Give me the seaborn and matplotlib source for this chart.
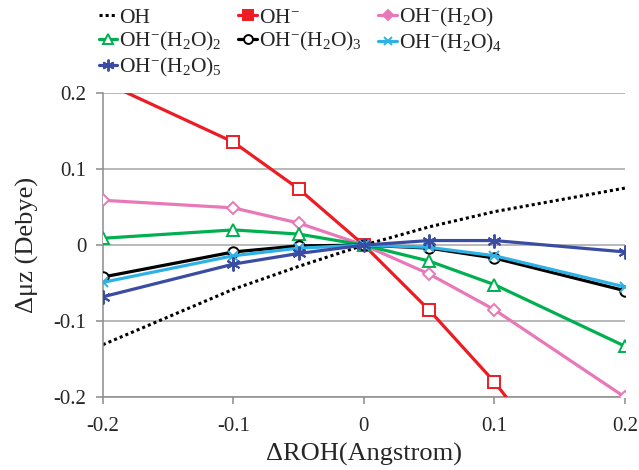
import matplotlib
matplotlib.use("Agg")
import matplotlib.pyplot as plt
from matplotlib.lines import Line2D
import seaborn as sns
import numpy as np

# bond stretch (Angstrom) and dipole change (Debye)
dr = [-0.2, -0.1, -0.05, 0.0, 0.05, 0.1, 0.2]

oh = [-0.131, -0.058, -0.028, 0.0, 0.024, 0.044, 0.075]
oh_minus = [0.215, 0.1355, 0.074, 0.0, -0.0855, -0.18, -0.40]
oh_w1 = [0.059, 0.049, 0.029, 0.0, -0.038, -0.085, -0.200]
oh_w2 = [0.009, 0.020, 0.0145, 0.0, -0.021, -0.052, -0.133]
oh_w3 = [-0.042, -0.009, -0.001, 0.0, -0.004, -0.017, -0.060]
oh_w4 = [-0.049, -0.014, -0.004, 0.0, -0.003, -0.014, -0.055]
oh_w5 = [-0.068, -0.025, -0.011, 0.0, 0.006, 0.006, -0.009]

labels = ["OH", r"OH$^{-}$", r"OH$^{-}$(H$_{2}$O)", r"OH$^{-}$(H$_{2}$O)$_{2}$",
          r"OH$^{-}$(H$_{2}$O)$_{3}$", r"OH$^{-}$(H$_{2}$O)$_{4}$", r"OH$^{-}$(H$_{2}$O)$_{5}$"]
series = [oh, oh_minus, oh_w1, oh_w2, oh_w3, oh_w4, oh_w5]
colors = ["black", "#ED1C24", "#E878B8", "#00B050", "black", "#2DB2E6", "#3B4DA3"]
markers = [None, "s", "D", "^", "o", "x", (6, 2, 0)]
msizes = [0, 8, 6.5, 8.5, 7.5, 7.5, 10]

sns.set_style("white")
plt.rcParams["font.family"] = ["Liberation Serif", "DejaVu Serif"]
plt.rcParams["mathtext.fontset"] = "custom"
plt.rcParams["mathtext.rm"] = "Liberation Serif"
plt.rcParams["mathtext.it"] = "Liberation Serif:italic"
plt.rcParams["mathtext.default"] = "regular"

fig, ax = plt.subplots(figsize=(6.39, 4.70), dpi=100)
fig.subplots_adjust(left=0.161, right=0.978, bottom=0.155, top=0.802)

handles = []
for i, (vals, lab, col, mk, ms) in enumerate(zip(series, labels, colors, markers, msizes)):
    if mk is None:
        sns.lineplot(x=dr, y=vals, ax=ax, color=col, lw=2.2, ls=(0, (1, 1)), zorder=2 + i)
        h = Line2D([], [], color=col, lw=2.2, ls=(0, (1, 1)))
    else:
        sns.lineplot(x=dr, y=vals, ax=ax, color=col, lw=2.3, marker=mk, markersize=ms,
                     markerfacecolor="white", markeredgecolor=col, markeredgewidth=1.4,
                     zorder=2 + i)
        face = col if i in (1, 2) else "white"
        h = Line2D([], [], color=col, lw=2.3, marker=mk, markersize=ms * 0.85,
                   markerfacecolor=face, markeredgecolor=col, markeredgewidth=1.4)
    handles.append(h)

ax.set_xlim(-0.2, 0.2)
ax.set_ylim(-0.2, 0.2)
ax.set_xticks([-0.2, -0.1, 0, 0.1, 0.2])
ax.set_yticks([-0.2, -0.1, 0, 0.1, 0.2])
ax.set_xticklabels(["-0.2", "-0.1", "0", "0.1", "0.2"])
ax.set_yticklabels(["-0.2", "-0.1", "0", "0.1", "0.2"])
ax.yaxis.grid(True, color="#a6a6a6", lw=1.1)
ax.xaxis.grid(False)
for s in ["top", "right"]:
    ax.spines[s].set_visible(False)
for s in ["left", "bottom"]:
    ax.spines[s].set_color("#8c8c8c")
    ax.spines[s].set_linewidth(1.1)
ax.tick_params(axis="both", which="both", direction="out", length=5, width=1.1,
               color="#8c8c8c", labelsize=15, pad=4)
ax.tick_params(axis="x", bottom=True, pad=9)
ax.tick_params(axis="y", left=True, pad=7)
ax.set_xlabel("ΔROH(Angstrom)", fontsize=19, labelpad=5)
ax.set_ylabel("Δμz (Debye)", fontsize=19, labelpad=10)

# legend in row-major order like the original
order = [0, 3, 6, 1, 4, 2, 5]
fig.legend([handles[k] for k in order], [labels[k] for k in order],
           loc="upper left", bbox_to_anchor=(0.134, 1.014), ncol=3, frameon=False,
           fontsize=15.5, handlelength=0.85, handletextpad=0.12, columnspacing=0.75,
           labelspacing=0.12, borderaxespad=0.2)

fig.savefig("out.png", dpi=100)
